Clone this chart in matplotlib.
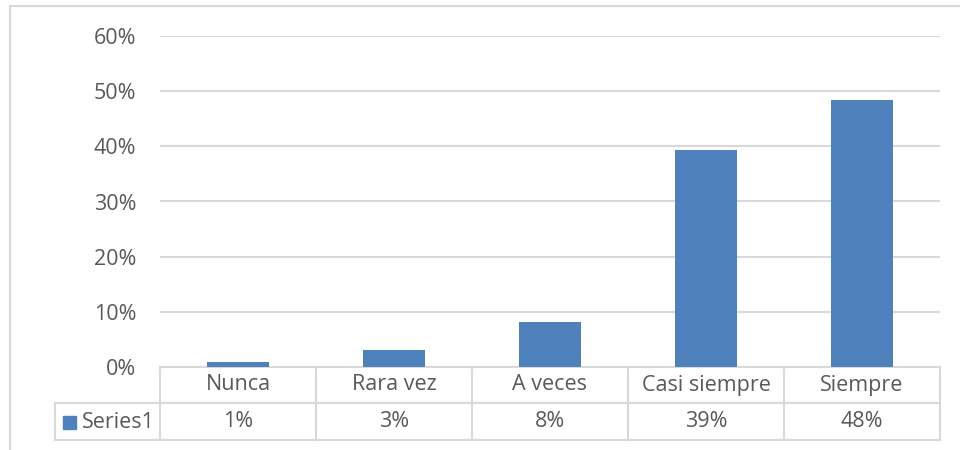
import matplotlib
matplotlib.use("Agg")
import matplotlib.pyplot as plt
from matplotlib.patches import Rectangle
from matplotlib.lines import Line2D
import matplotlib.transforms as mtrans

categories = ["Nunca", "Rara vez", "A veces", "Casi siempre", "Siempre"]
values = [0.009, 0.030, 0.081, 0.394, 0.484]
series_name = "Series1"
yticks = [0, 0.1, 0.2, 0.3, 0.4, 0.5, 0.6]

plt.rcParams['font.family'] = ['Open Sans', 'DejaVu Sans']
W, H = 960, 450
FS = 15.5
fig = plt.figure(figsize=(9.6, 4.5), dpi=100)
fig.patch.set_facecolor("white")

grid_c = "#d9d9d9"
text_c = "#595959"
bar_c = "#4f81bd"

# outer chart border
fig.add_artist(Line2D([10/W, 10/W], [0, 1 - 6/H], color=grid_c, lw=1.5, transform=fig.transFigure))
fig.add_artist(Line2D([10/W, 1], [1 - 6/H, 1 - 6/H], color=grid_c, lw=1.5, transform=fig.transFigure))

left, right = 160/W, 940/W
bottom, top = 1 - 367/H, 1 - 36/H
ax = fig.add_axes([left, bottom, right - left, top - bottom])
x = list(range(len(categories)))
ax.bar(x, values, width=0.4, color=bar_c, zorder=3)
ax.set_xlim(-0.5, len(categories) - 0.5)
ax.set_ylim(0, 0.6)
ax.set_yticks(yticks)
ax.set_yticklabels([f"{int(round(t*100))}%" for t in yticks], color=text_c, fontsize=FS)
ax.tick_params(axis='y', length=0, pad=17)
ax.set_xticks([])
for s in ax.spines.values():
    s.set_visible(False)
ax.yaxis.grid(True, color=grid_c, lw=1.5, zorder=0)
ax.set_axisbelow(True)

# data table below the axes
tr = mtrans.blended_transform_factory(ax.transData, ax.transAxes)
axh = 331.0
r1 = -36/axh
r2 = -73/axh
xl = -0.5
xr = len(categories) - 0.5
xleg = (55 - 160)/156 - 0.5
kw = dict(color=grid_c, lw=1.5, transform=tr, clip_on=False)
ax.add_artist(Line2D([xl, xl], [0, r2], **kw))
ax.add_artist(Line2D([xl, xr], [r1, r1], **kw))
ax.add_artist(Line2D([xleg, xr], [r1, r1], **kw))
ax.add_artist(Line2D([xleg, xr], [r2, r2], **kw))
ax.add_artist(Line2D([xleg, xleg], [r1, r2], **kw))
ax.add_artist(Line2D([xl, xr], [0, 0], **kw))
for i in range(len(categories)):
    ax.add_artist(Line2D([i + 0.5, i + 0.5], [0, r2], **kw))
    ax.text(i, r1/2, categories[i], transform=tr, ha='center', va='center',
            color=text_c, fontsize=FS, clip_on=False)
    ax.text(i, (r1 + r2)/2, f"{round(values[i]*100):.0f}%", transform=tr,
            ha='center', va='center', color=text_c, fontsize=FS, clip_on=False)

# legend key in table
fig.add_artist(Rectangle((63/W, 1 - 429/H), 13/W, 13/H, color=bar_c, transform=fig.transFigure))
fig.text(82/W, 1 - 422/H, series_name, ha='left', va='center', color=text_c, fontsize=FS)

fig.savefig("out.png", dpi=100)
